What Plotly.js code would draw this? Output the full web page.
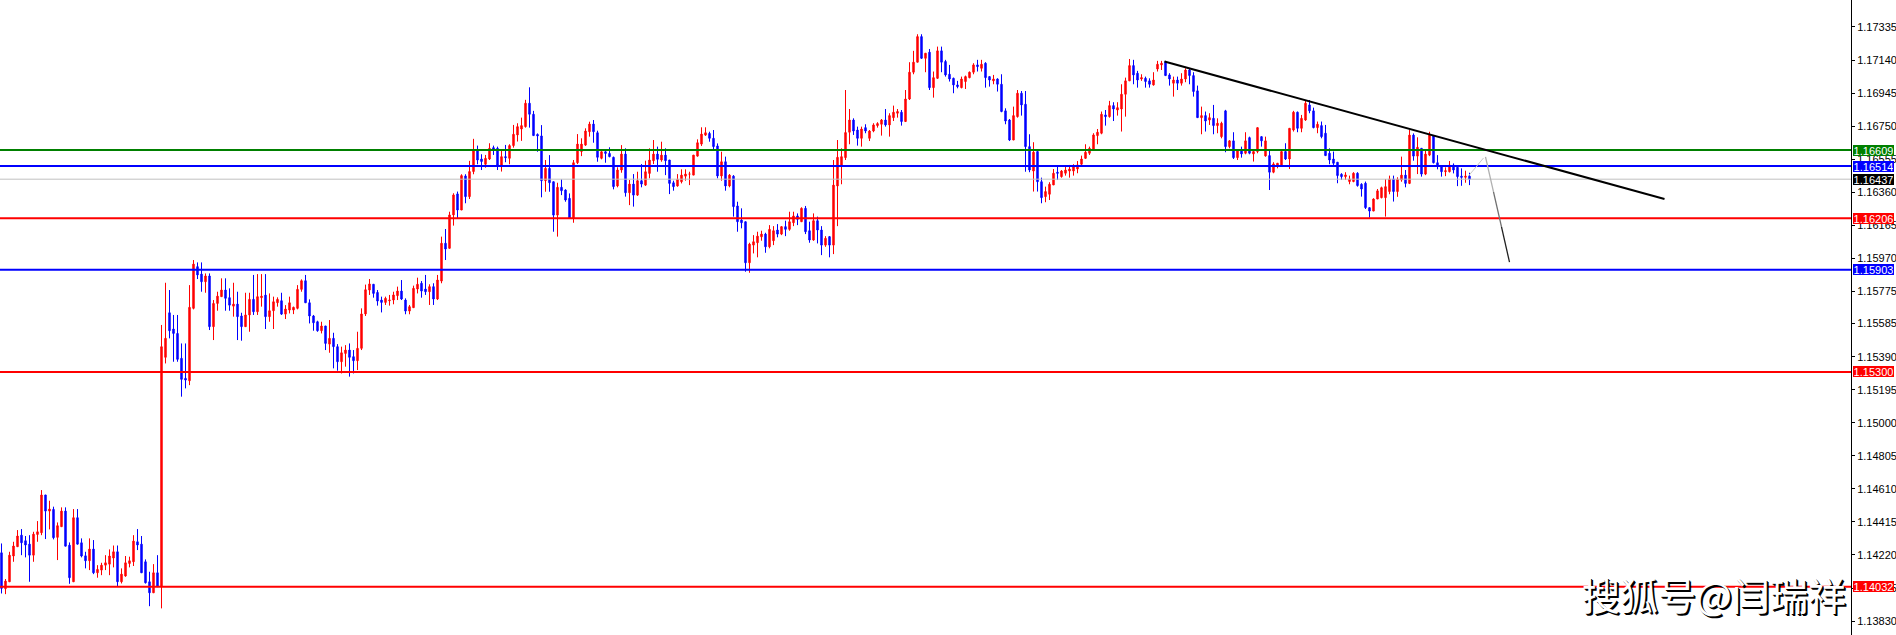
<!DOCTYPE html>
<html><head><meta charset="utf-8">
<script src="https://cdn.plot.ly/plotly-3.0.1.min.js"></script>
<style>html,body{margin:0;padding:0;background:#fff;overflow:hidden}#chart{width:1896px;height:635px}</style>
</head><body><div id="chart"></div>
<script>
const opens = [
1.14233,1.14021,1.14062,1.14214,1.14269,1.14337,1.14304,1.14284,1.14219,1.14341,
1.14351,1.14574,1.14479,1.14489,1.14324,1.14387,1.14479,1.14278,1.14062,1.14440,
1.14292,1.14215,1.14186,1.14255,1.14115,1.14131,1.14160,1.14166,1.14202,1.14239,
1.14062,1.14096,1.14170,1.14180,1.14298,1.14284,1.14180,1.14062,1.13997,1.14115,
1.14033,1.15386,1.15649,1.15553,1.15527,1.15380,1.15262,1.15248,1.15675,1.15921,
1.15877,1.15832,1.15866,1.15567,1.15704,1.15744,1.15783,1.15738,1.15688,1.15700,
1.15630,1.15567,1.15636,1.15728,1.15655,1.15738,1.15753,1.15626,1.15661,1.15708,
1.15720,1.15641,1.15665,1.15665,1.15675,1.15787,1.15838,1.15708,1.15630,1.15596,
1.15543,1.15571,1.15464,1.15498,1.15449,1.15360,1.15409,1.15429,1.15390,1.15366,
1.15439,1.15642,1.15783,1.15817,1.15769,1.15724,1.15710,1.15720,1.15724,1.15750,
1.15777,1.15724,1.15659,1.15679,1.15789,1.15823,1.15789,1.15773,1.15803,1.15730,
1.15836,1.16059,1.16029,1.16226,1.16350,1.16255,1.16456,1.16334,1.16482,1.16604,
1.16556,1.16525,1.16556,1.16623,1.16619,1.16517,1.16570,1.16560,1.16635,1.16698,
1.16733,1.16747,1.16885,1.16820,1.16701,1.16692,1.16428,1.16501,1.16422,1.16225,
1.16389,1.16373,1.16324,1.16206,1.16534,1.16600,1.16638,1.16717,1.16762,1.16711,
1.16560,1.16599,1.16589,1.16566,1.16397,1.16491,1.16585,1.16357,1.16408,1.16343,
1.16428,1.16402,1.16471,1.16546,1.16585,1.16550,1.16579,1.16550,1.16416,1.16397,
1.16422,1.16455,1.16467,1.16461,1.16573,1.16644,1.16697,1.16707,1.16678,1.16633,
1.16456,1.16540,1.16397,1.16455,1.16279,1.16196,1.16186,1.15944,1.16048,1.16062,
1.16097,1.16113,1.16038,1.16074,1.16137,1.16113,1.16157,1.16141,1.16180,1.16220,
1.16186,1.16265,1.16133,1.16078,1.16192,1.16137,1.16048,1.16098,1.16048,1.16397,
1.16521,1.16564,1.16714,1.16786,1.16727,1.16678,1.16741,1.16678,1.16721,1.16753,
1.16761,1.16786,1.16757,1.16800,1.16826,1.16832,1.16777,1.16910,1.17068,1.17127,
1.17278,1.17150,1.17186,1.16977,1.17032,1.17194,1.17131,1.17056,1.17032,1.16993,
1.16977,1.17013,1.17036,1.17068,1.17111,1.17091,1.17121,1.17042,1.17017,1.17028,
1.16997,1.16840,1.16786,1.16668,1.16806,1.16944,1.16879,1.16629,1.16485,1.16600,
1.16422,1.16334,1.16348,1.16403,1.16478,1.16452,1.16472,1.16485,1.16485,1.16497,
1.16525,1.16560,1.16590,1.16615,1.16694,1.16708,1.16816,1.16806,1.16871,1.16845,
1.16851,1.16938,1.17017,1.17107,1.17062,1.17028,1.17032,1.17017,1.16993,1.17087,
1.17111,1.17131,1.17052,1.17003,1.17022,1.17003,1.17028,1.17081,1.17048,1.16958,
1.16800,1.16812,1.16786,1.16796,1.16753,1.16688,1.16840,1.16629,1.16663,1.16564,
1.16609,1.16590,1.16682,1.16586,1.16600,1.16688,1.16574,1.16576,1.16478,1.16517,
1.16521,1.16600,1.16556,1.16727,1.16832,1.16737,1.16786,1.16875,1.16840,1.16741,
1.16753,1.16708,1.16590,1.16556,1.16537,1.16466,1.16452,1.16423,1.16423,1.16472,
1.16407,1.16413,1.16269,1.16249,1.16320,1.16328,1.16328,1.16364,1.16438,1.16364,
1.16432,1.16461,1.16412,1.16697,1.16573,1.16619,1.16467,1.16579,1.16692,1.16534,
1.16514,1.16481,1.16481,1.16520,1.16507,1.16455,1.16448,1.16455];

const highs = [
1.14288,1.14078,1.14239,1.14298,1.14367,1.14373,1.14332,1.14337,1.14357,1.14420,
1.14603,1.14574,1.14540,1.14505,1.14412,1.14501,1.14501,1.14294,1.14491,1.14491,
1.14318,1.14239,1.14318,1.14308,1.14160,1.14174,1.14219,1.14253,1.14276,1.14276,
1.14141,1.14214,1.14210,1.14337,1.14373,1.14332,1.14194,1.14121,1.14166,1.14219,
1.15577,1.15826,1.15783,1.15636,1.15636,1.15468,1.15468,1.15812,1.15960,1.15946,
1.15946,1.15881,1.15881,1.15724,1.15773,1.15852,1.15852,1.15793,1.15826,1.15773,
1.15649,1.15767,1.15767,1.15872,1.15877,1.15877,1.15877,1.15763,1.15744,1.15740,
1.15767,1.15694,1.15744,1.15685,1.15812,1.15846,1.15872,1.15728,1.15636,1.15602,
1.15596,1.15571,1.15606,1.15531,1.15464,1.15449,1.15458,1.15468,1.15429,1.15537,
1.15675,1.15815,1.15848,1.15817,1.15783,1.15744,1.15744,1.15754,1.15773,1.15803,
1.15842,1.15734,1.15695,1.15809,1.15856,1.15836,1.15872,1.15817,1.15823,1.15872,
1.16098,1.16143,1.16245,1.16354,1.16364,1.16466,1.16466,1.16545,1.16675,1.16635,
1.16584,1.16580,1.16649,1.16635,1.16629,1.16604,1.16639,1.16643,1.16757,1.16767,
1.16800,1.16905,1.16979,1.16840,1.16707,1.16756,1.16550,1.16579,1.16422,1.16416,
1.16436,1.16377,1.16353,1.16550,1.16703,1.16678,1.16737,1.16776,1.16786,1.16723,
1.16613,1.16613,1.16625,1.16570,1.16507,1.16638,1.16619,1.16432,1.16467,1.16481,
1.16526,1.16546,1.16619,1.16668,1.16629,1.16658,1.16619,1.16550,1.16428,1.16467,
1.16495,1.16495,1.16481,1.16579,1.16672,1.16743,1.16743,1.16717,1.16727,1.16648,
1.16599,1.16570,1.16467,1.16461,1.16304,1.16265,1.16186,1.16062,1.16107,1.16127,
1.16133,1.16121,1.16166,1.16160,1.16172,1.16160,1.16192,1.16245,1.16245,1.16235,
1.16271,1.16279,1.16186,1.16235,1.16216,1.16160,1.16101,1.16101,1.16550,1.16668,
1.16619,1.16963,1.16851,1.16796,1.16747,1.16747,1.16761,1.16727,1.16767,1.16773,
1.16792,1.16851,1.16826,1.16871,1.16851,1.16845,1.16963,1.17127,1.17194,1.17292,
1.17292,1.17180,1.17205,1.17072,1.17219,1.17219,1.17141,1.17111,1.17036,1.17017,
1.17042,1.17048,1.17072,1.17121,1.17141,1.17141,1.17127,1.17042,1.17052,1.17032,
1.17056,1.16855,1.16792,1.16865,1.16963,1.16957,1.16957,1.16702,1.16655,1.16600,
1.16446,1.16393,1.16419,1.16497,1.16511,1.16491,1.16511,1.16521,1.16525,1.16544,
1.16576,1.16643,1.16629,1.16708,1.16733,1.16836,1.16845,1.16899,1.16891,1.16891,
1.16997,1.17036,1.17146,1.17141,1.17076,1.17056,1.17042,1.17032,1.17068,1.17135,
1.17135,1.17135,1.17062,1.17042,1.17042,1.17062,1.17091,1.17087,1.17068,1.16989,
1.16865,1.16836,1.16826,1.16875,1.16796,1.16776,1.16846,1.16668,1.16714,1.16609,
1.16629,1.16714,1.16688,1.16600,1.16741,1.16688,1.16688,1.16609,1.16537,1.16531,
1.16600,1.16649,1.16737,1.16840,1.16836,1.16816,1.16904,1.16904,1.16859,1.16777,
1.16777,1.16757,1.16619,1.16600,1.16537,1.16472,1.16478,1.16458,1.16478,1.16478,
1.16413,1.16423,1.16269,1.16324,1.16379,1.16393,1.16438,1.16458,1.16458,1.16448,
1.16570,1.16491,1.16727,1.16707,1.16684,1.16619,1.16613,1.16717,1.16697,1.16579,
1.16520,1.16507,1.16544,1.16530,1.16511,1.16501,1.16487,1.16475];

const lows = [
1.13993,1.13989,1.14062,1.14180,1.14269,1.14219,1.14206,1.14062,1.14180,1.14298,
1.14337,1.14314,1.14371,1.14312,1.14190,1.14387,1.14272,1.14050,1.14062,1.14282,
1.14206,1.14141,1.14131,1.14107,1.14086,1.14101,1.14131,1.14101,1.14147,1.14037,
1.14052,1.14092,1.14147,1.14155,1.14249,1.14115,1.14052,1.13918,1.13997,1.14033,
1.13905,1.15350,1.15498,1.15360,1.15360,1.15154,1.15203,1.15222,1.15669,1.15848,
1.15773,1.15767,1.15547,1.15488,1.15661,1.15744,1.15661,1.15661,1.15626,1.15488,
1.15484,1.15567,1.15537,1.15636,1.15636,1.15685,1.15553,1.15596,1.15553,1.15685,
1.15636,1.15612,1.15645,1.15641,1.15669,1.15773,1.15708,1.15586,1.15543,1.15537,
1.15527,1.15429,1.15413,1.15321,1.15307,1.15291,1.15331,1.15272,1.15291,1.15311,
1.15429,1.15630,1.15754,1.15738,1.15691,1.15651,1.15695,1.15691,1.15699,1.15724,
1.15724,1.15640,1.15640,1.15679,1.15763,1.15738,1.15754,1.15695,1.15695,1.15724,
1.15823,1.15960,1.16029,1.16163,1.16206,1.16255,1.16295,1.16320,1.16466,1.16525,
1.16491,1.16505,1.16550,1.16580,1.16491,1.16482,1.16537,1.16525,1.16623,1.16659,
1.16663,1.16741,1.16741,1.16694,1.16599,1.16330,1.16363,1.16363,1.16127,1.16098,
1.16343,1.16304,1.16206,1.16180,1.16526,1.16573,1.16633,1.16688,1.16652,1.16540,
1.16554,1.16534,1.16566,1.16377,1.16389,1.16475,1.16334,1.16284,1.16275,1.16338,
1.16389,1.16397,1.16442,1.16526,1.16481,1.16540,1.16461,1.16349,1.16369,1.16393,
1.16412,1.16428,1.16402,1.16461,1.16570,1.16633,1.16692,1.16658,1.16613,1.16442,
1.16428,1.16369,1.16389,1.16216,1.16127,1.16147,1.15891,1.15885,1.15999,1.15976,
1.16074,1.16003,1.16029,1.16048,1.16094,1.16107,1.16101,1.16133,1.16160,1.16166,
1.16186,1.16113,1.16062,1.16074,1.16058,1.15989,1.16038,1.15976,1.15995,1.16160,
1.16407,1.16550,1.16643,1.16698,1.16635,1.16629,1.16708,1.16662,1.16714,1.16741,
1.16694,1.16747,1.16688,1.16780,1.16800,1.16753,1.16777,1.16904,1.17056,1.17127,
1.17146,1.17068,1.16963,1.16918,1.17028,1.17068,1.17042,1.17013,1.16944,1.16973,
1.16973,1.16969,1.17032,1.17056,1.17072,1.17072,1.16977,1.16983,1.16997,1.16954,
1.16832,1.16761,1.16662,1.16668,1.16800,1.16812,1.16481,1.16478,1.16364,1.16364,
1.16295,1.16301,1.16314,1.16403,1.16432,1.16446,1.16458,1.16446,1.16458,1.16472,
1.16521,1.16556,1.16580,1.16609,1.16643,1.16702,1.16753,1.16800,1.16780,1.16812,
1.16718,1.16806,1.17017,1.16997,1.16977,1.17017,1.16977,1.16977,1.16989,1.17072,
1.17081,1.17048,1.16989,1.16924,1.16963,1.16989,1.17009,1.16997,1.16924,1.16800,
1.16702,1.16718,1.16757,1.16702,1.16708,1.16678,1.16596,1.16619,1.16556,1.16550,
1.16564,1.16584,1.16584,1.16541,1.16590,1.16629,1.16570,1.16373,1.16472,1.16501,
1.16517,1.16550,1.16497,1.16718,1.16714,1.16714,1.16781,1.16826,1.16737,1.16708,
1.16678,1.16576,1.16525,1.16521,1.16413,1.16432,1.16432,1.16407,1.16419,1.16393,
1.16334,1.16261,1.16210,1.16249,1.16320,1.16324,1.16216,1.16348,1.16305,1.16333,
1.16422,1.16389,1.16408,1.16546,1.16467,1.16452,1.16461,1.16573,1.16530,1.16495,
1.16452,1.16455,1.16477,1.16471,1.16396,1.16398,1.16416,1.16402];

const closes = [
1.14023,1.14066,1.14219,1.14273,1.14332,1.14292,1.14279,1.14219,1.14343,1.14357,
1.14574,1.14479,1.14491,1.14322,1.14393,1.14479,1.14272,1.14086,1.14440,1.14284,
1.14214,1.14186,1.14255,1.14115,1.14135,1.14160,1.14174,1.14214,1.14239,1.14062,
1.14107,1.14174,1.14186,1.14302,1.14279,1.14115,1.14056,1.13997,1.14115,1.14033,
1.15449,1.15498,1.15543,1.15527,1.15374,1.15256,1.15252,1.15681,1.15936,1.15872,
1.15832,1.15866,1.15567,1.15704,1.15747,1.15783,1.15734,1.15694,1.15700,1.15626,
1.15567,1.15636,1.15728,1.15655,1.15744,1.15747,1.15626,1.15661,1.15714,1.15728,
1.15641,1.15671,1.15708,1.15681,1.15787,1.15838,1.15708,1.15630,1.15590,1.15543,
1.15571,1.15468,1.15498,1.15449,1.15360,1.15413,1.15429,1.15386,1.15366,1.15439,
1.15642,1.15785,1.15819,1.15763,1.15718,1.15710,1.15734,1.15724,1.15754,1.15777,
1.15730,1.15659,1.15685,1.15793,1.15817,1.15777,1.15773,1.15803,1.15730,1.15842,
1.16059,1.16025,1.16226,1.16344,1.16255,1.16458,1.16334,1.16482,1.16604,1.16550,
1.16541,1.16560,1.16619,1.16615,1.16517,1.16570,1.16564,1.16635,1.16702,1.16747,
1.16753,1.16885,1.16820,1.16694,1.16692,1.16428,1.16501,1.16416,1.16225,1.16389,
1.16369,1.16314,1.16206,1.16534,1.16644,1.16644,1.16721,1.16762,1.16717,1.16566,
1.16599,1.16589,1.16570,1.16393,1.16491,1.16585,1.16357,1.16408,1.16343,1.16428,
1.16408,1.16481,1.16550,1.16585,1.16554,1.16579,1.16546,1.16412,1.16393,1.16436,
1.16461,1.16467,1.16467,1.16579,1.16652,1.16703,1.16711,1.16678,1.16629,1.16456,
1.16540,1.16397,1.16461,1.16275,1.16186,1.16180,1.15944,1.16054,1.16068,1.16101,
1.16113,1.16038,1.16141,1.16133,1.16113,1.16157,1.16141,1.16186,1.16220,1.16200,
1.16265,1.16127,1.16078,1.16192,1.16137,1.16048,1.16088,1.16048,1.16402,1.16566,
1.16570,1.16712,1.16786,1.16721,1.16678,1.16733,1.16721,1.16721,1.16757,1.16765,
1.16786,1.16757,1.16812,1.16832,1.16836,1.16777,1.16910,1.17068,1.17127,1.17278,
1.17150,1.17180,1.16977,1.17036,1.17194,1.17127,1.17052,1.17028,1.16993,1.16983,
1.17028,1.17042,1.17068,1.17111,1.17101,1.17115,1.17036,1.17022,1.17028,1.16997,
1.16836,1.16780,1.16668,1.16812,1.16944,1.16875,1.16629,1.16491,1.16596,1.16422,
1.16328,1.16364,1.16407,1.16472,1.16472,1.16485,1.16491,1.16497,1.16511,1.16521,
1.16556,1.16596,1.16619,1.16698,1.16714,1.16820,1.16806,1.16871,1.16851,1.16859,
1.16938,1.17017,1.17107,1.17052,1.17022,1.17036,1.17013,1.16997,1.17022,1.17115,
1.17121,1.17048,1.17028,1.17022,1.17003,1.17028,1.17081,1.17048,1.16954,1.16800,
1.16812,1.16780,1.16800,1.16753,1.16767,1.16767,1.16629,1.16663,1.16564,1.16609,
1.16586,1.16663,1.16590,1.16600,1.16741,1.16663,1.16663,1.16478,1.16527,1.16531,
1.16600,1.16556,1.16737,1.16832,1.16737,1.16796,1.16885,1.16840,1.16741,1.16761,
1.16688,1.16576,1.16550,1.16531,1.16458,1.16452,1.16462,1.16438,1.16472,1.16399,
1.16379,1.16269,1.16249,1.16320,1.16368,1.16387,1.16393,1.16438,1.16364,1.16436,
1.16461,1.16412,1.16697,1.16573,1.16625,1.16467,1.16585,1.16697,1.16534,1.16514,
1.16481,1.16487,1.16520,1.16491,1.16452,1.16448,1.16455,1.16437];

// horizontal price levels (price values) and their line kinds
const levelPrices = [1.16609, 1.16514, 1.16437, 1.16206, 1.15903, 1.15300, 1.14032];
const levelKinds  = ['green', 'blue', 'current', 'red', 'blue', 'red', 'red'];

// right axis tick values
const tickValues = [1.17335, 1.17140, 1.16945, 1.16750, 1.16555, 1.16360, 1.16165, 1.15970,
  1.15775, 1.15585, 1.15390, 1.15195, 1.15000, 1.14805, 1.14610, 1.14415, 1.14220, 1.14025, 1.13830];
const tickLabels = tickValues.map(v => v.toFixed(5));

// drawn objects (bar index, price)
const trendBars = [290.75, 415.75];
const trendPrices = [1.17131, 1.16320];
const guideBars = [366.75, 370.5];
const guidePrices = [1.16456, 1.16562];
const arrowBars = [371, 377];
const arrowPrices = [1.16569, 1.15948];

const watermark = '搜狐号@闫瑞祥';

const bars = opens.map((_, i) => i);

const kindStyle = {
  green:   {line: '#008000', box: '#008000', w: 2},
  blue:    {line: '#0000FF', box: '#0000FF', w: 2},
  red:     {line: '#FF0000', box: '#FF0000', w: 2},
  current: {line: '#C0C0C0', box: '#000000', w: 1}
};

const shapes = [];
const annotations = [];
levelPrices.forEach((p, k) => {
  const st = kindStyle[levelKinds[k]];
  shapes.push({type: 'line', xref: 'paper', yref: 'y', x0: 0, x1: 1, y0: p, y1: p,
    line: {color: st.line, width: st.w}, layer: 'above'});
  annotations.push({xref: 'paper', yref: 'y', x: 1, y: p, xanchor: 'left', yanchor: 'middle',
    xshift: 2, text: p.toFixed(5), showarrow: false, bgcolor: st.box, borderwidth: 0, borderpad: 1,
    width: 39, height: 9, align: 'center',
    font: {family: 'Liberation Sans Narrow, Liberation Sans, Arial, sans-serif', size: 11, color: '#FFFFFF'}});
});

shapes.push({type: 'line', xref: 'x', yref: 'y', x0: trendBars[0], x1: trendBars[1],
  y0: trendPrices[0], y1: trendPrices[1], line: {color: '#000000', width: 2}, layer: 'above'});
shapes.push({type: 'line', xref: 'x', yref: 'y', x0: guideBars[0], x1: guideBars[1],
  y0: guidePrices[0], y1: guidePrices[1], line: {color: '#C8C8C8', width: 1}, layer: 'above'});
// pointer line drawn in three tones (light at top, dark at bottom)
const tones = ['#B0B0B0', '#707070', '#202020'];
for (let s = 0; s < 3; s++) {
  const f0 = s / 3, f1 = (s + 1) / 3;
  shapes.push({type: 'line', xref: 'x', yref: 'y',
    x0: arrowBars[0] + (arrowBars[1] - arrowBars[0]) * f0,
    x1: arrowBars[0] + (arrowBars[1] - arrowBars[0]) * f1,
    y0: arrowPrices[0] + (arrowPrices[1] - arrowPrices[0]) * f0,
    y1: arrowPrices[0] + (arrowPrices[1] - arrowPrices[0]) * f1,
    line: {color: tones[s], width: 1.3}, layer: 'above'});
}

annotations.push({xref: 'paper', yref: 'paper', x: 0.9985, y: 0.065, xanchor: 'right', yanchor: 'middle',
  text: watermark, showarrow: false,
  font: {family: 'Noto Sans CJK SC, sans-serif', size: 38, color: '#FFFFFF',
         shadow: '2px 2px 0px #000000, 1px 1px 0px #000000'}});

const trace = {
  type: 'candlestick', x: bars, open: opens, high: highs, low: lows, close: closes,
  increasing: {line: {color: '#FF0000', width: 1}, fillcolor: '#FF0000'},
  decreasing: {line: {color: '#0000FF', width: 1}, fillcolor: '#0000FF'},
  whiskerwidth: 0, hoverinfo: 'skip', showlegend: false
};

const layout = {
  width: 1896, height: 635,
  margin: {l: 0, r: 45, t: 0, b: 0, pad: 0},
  paper_bgcolor: '#FFFFFF', plot_bgcolor: '#FFFFFF',
  showlegend: false, boxgap: 0.5,
  xaxis: {range: [-0.375, 462.375], visible: false, rangeslider: {visible: false}, fixedrange: true},
  yaxis: {side: 'right', range: [1.13748, 1.17494], tickmode: 'array', tickvals: tickValues, ticktext: tickLabels,
    ticks: 'outside', ticklen: 3, tickcolor: '#000', tickwidth: 1,
    showline: true, linecolor: '#000', linewidth: 1, showgrid: false, zeroline: false, fixedrange: true,
    tickfont: {family: 'Liberation Sans Narrow, Liberation Sans, Arial, sans-serif', size: 11, color: '#000'}},
  shapes: shapes, annotations: annotations
};

Plotly.newPlot('chart', [trace], layout, {displayModeBar: false, staticPlot: true});
</script></body></html>
